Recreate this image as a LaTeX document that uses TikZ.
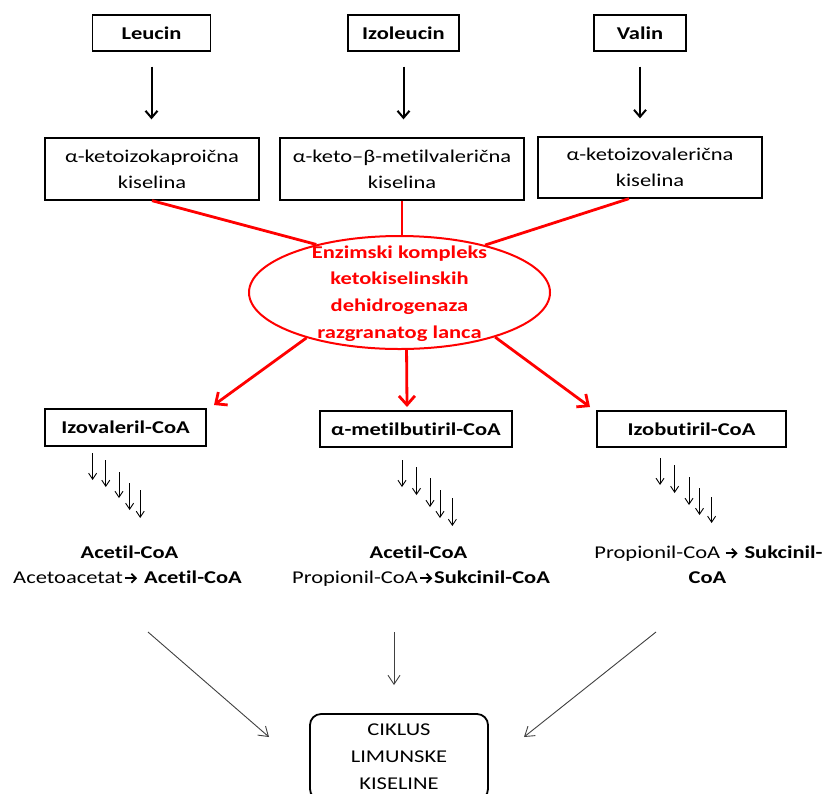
\documentclass[tikz,border=0pt]{standalone}
\usepackage{fontspec}
\setmainfont{Carlito}[FakeStretch=1.25,Ligatures={NoCommon}]
\usetikzlibrary{arrows.meta,calc,shapes.geometric}
\newcommand{\arr}{\hspace{1.5pt}\tikz[x=1pt,y=1pt,baseline=0pt]\draw[line width=1.8pt,line cap=butt,-{Straight Barb[length=4.5pt,width=9pt,line width=1.8pt]}] (0,4.8) -- (12,4.8);\hspace{1pt}}
\begin{document}
\begin{tikzpicture}[x=1pt,y=-1pt,
  txt/.style={inner sep=0, font=\fontsize{18}{26}\selectfont},
  box/.style={draw, line width=1.3pt, inner sep=0, align=center, font=\fontsize{18}{26}\selectfont},
  bbox/.style={box, font=\fontsize{18}{26}\selectfont\bfseries},
  blackarrow/.style={line width=2pt, -{Straight Barb[length=7pt,width=12pt]}},
  redline/.style={draw=red, line width=2.8pt},
  redarrow/.style={red, line width=2.8pt, -{Straight Barb[length=9pt,width=16pt]}},
  stair/.style={line width=0.9pt, -{Straight Barb[length=6pt,width=8pt]}},
  thinarrow/.style={draw=black!75, line width=0.9pt, -{Straight Barb[length=9pt,width=12pt]}}
]
\useasboundingbox (0,0) rectangle (826,793);
\clip (0,0) rectangle (826,793);

% top row
\node[bbox, minimum width=118, minimum height=36] (leu) at (151.5,33) {Leucin};
\node[bbox, minimum width=111, minimum height=36] (izo) at (403.5,33) {Izoleucin};
\node[bbox, minimum width=92, minimum height=36] (val) at (640,33) {Valin};

% keto acids
\node[box, minimum width=214, minimum height=62] (k1) at (152,169) {α-ketoizokaproična\\kiselina};
\node[box, minimum width=244, minimum height=62] (k2) at (402,169) {α-keto–β-metilvalerična\\kiselina};
\node[box, minimum width=224, minimum height=61] (k3) at (650,167.5) {α-ketoizovalerična\\kiselina};

\draw[blackarrow, shorten <=15pt, shorten >=18pt] (leu.south) -- (leu.south |- k1.north);
\draw[blackarrow, shorten <=15pt, shorten >=18pt] (izo.south) -- (izo.south |- k2.north);
\draw[blackarrow, shorten <=15pt, shorten >=18pt] (val.south) -- (val.south |- k3.north);

% enzyme complex
\node[ellipse, draw=red, line width=2pt, fill=white, minimum width=301, minimum height=113, inner sep=0] (enz) at (399.5,292.5) {};
\draw[redline] (k1.south) -- (enz.150);
\draw[redline] (k2.south) -- (k2.south |- enz.north);
\draw[redline] ($(k3.south)+(-21,0)$) -- (enz.29);
\node[inner sep=0, align=center, text=red, font=\fontsize{18}{26.7}\selectfont\bfseries] (enzt) at (399.5,293.5)
  {Enzimski kompleks\\ketokiselinskih\\dehidrogenaza\\razgranatog lanca};

% acyl-CoA
\node[bbox, minimum width=161, minimum height=37] (iv) at (125.5,427.5) {Izovaleril-CoA};
\node[bbox, minimum width=192, minimum height=36] (mb) at (416,429) {α-metilbutiril-CoA};
\node[bbox, minimum width=189, minimum height=36] (ib) at (691.5,429) {Izobutiril-CoA};

\coordinate (tipL) at (214,405);
\coordinate (tipM) at (407,407);
\coordinate (tipR) at (590,407);
\draw[redarrow] (enz.206) -- (tipL);
\draw[redarrow] (enz.277.5) -- (tipM);
\draw[redarrow] (enz.335) -- (tipR);

% stair arrows
\foreach \x/\a/\b in {92.6/453/480, 105.8/460/487, 119/472/498, 129.6/483/510, 140.2/490/518,
                      402/460/487, 416.5/467/495, 430/478/507, 440/490/518, 452.4/498/526,
                      660/458/485, 674.6/465/493, 689/477/505, 699.5/488/515, 711.6/497/523}
  \draw[stair] (\x,\a) -- (\x,\b);

% products
\node[txt, anchor=base] (l1) at (129.5,558) {\textbf{Acetil-CoA}};
\node[txt, anchor=base] (l2) at (127.5,583) {Acetoacetat\arr{} \textbf{Acetil-CoA}};
\node[txt, anchor=base] (m1) at (418.5,558) {\textbf{Acetil-CoA}};
\node[txt, anchor=base] (m2) at (421,583) {Propionil-CoA\arr\textbf{Sukcinil-CoA}};
\node[txt, anchor=base] (r1) at (708.5,558) {Propionil-CoA\,\arr{} \textbf{Sukcinil-}};
\node[txt, anchor=base] (r2) at (707.5,583) {\textbf{CoA}};

% citric acid cycle
\node[draw, line width=1.8pt, rounded corners=11pt, minimum width=178, minimum height=86, inner sep=0,
      align=center, font=\fontsize{18}{27}\selectfont] (cik) at (399,757) {CIKLUS\\LIMUNSKE\\KISELINE};

\coordinate (sL) at (148,632); \coordinate (eL) at (269,737);
\coordinate (sM) at (394,632); \coordinate (eM) at (394,685);
\coordinate (sR) at (656,632); \coordinate (eR) at (524,737);
\draw[thinarrow] (sL) -- (eL);
\draw[thinarrow] (sM) -- (eM);
\draw[thinarrow] (sR) -- (eR);
\end{tikzpicture}
\end{document}
